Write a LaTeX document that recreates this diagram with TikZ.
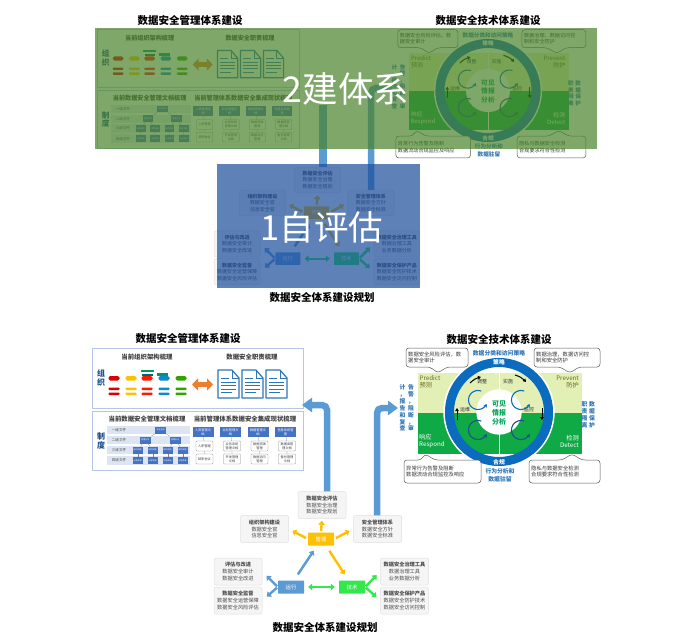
\documentclass[tikz,border=0pt]{standalone}
\usepackage{fontspec}
\setmainfont{Noto Sans CJK SC}
\usetikzlibrary{arrows.meta,calc}
\definecolor{panelb}{HTML}{B4C7E7}
\definecolor{rowb}{HTML}{DEE5F2}
\definecolor{boxb}{HTML}{4472C4}
\definecolor{docb}{HTML}{2E75B6}
\definecolor{ringb}{HTML}{0B6CBF}
\definecolor{lgreen}{HTML}{E2F0B5}
\definecolor{dgreen}{HTML}{0FA945}
\definecolor{skyb}{HTML}{5B9BD5}
\definecolor{yel}{HTML}{FFC000}
\definecolor{grn}{HTML}{33E84A}
\definecolor{orn}{HTML}{ED7D31}
\definecolor{navy}{HTML}{1F4E8C}
\definecolor{overg}{HTML}{4A832A}
\definecolor{overb}{HTML}{1A4D9B}
\newcommand{\fz}[1]{\fontsize{#1}{\the\dimexpr#1pt*13/10\relax}\selectfont}
\newcommand{\fzb}[2]{\fontsize{#1}{#2}\selectfont}
\tikzset{
 panelbox/.style={draw=panelb,line width=.8,fill=white},
 ttl/.style={font=\bfseries\fz{10.5},text=black,inner sep=0},
 sub/.style={font=\bfseries\fz{6.4},text=black!75,inner sep=0},
 tinyb/.style={fill=boxb,text=white,font=\fz{2},inner sep=0,minimum width=10,minimum height=7,align=center},
 hdrb/.style={fill=boxb,text=white,font=\fz{3.2},inner sep=0,minimum width=21,minimum height=10,align=center},
 subb/.style={draw=black!45,line width=.3,fill=white,rounded corners=.8,text=black!75,font=\fzb{3.2}{4},inner sep=0,minimum width=17,minimum height=10,align=center},
 thin/.style={draw=black!50,line width=.25},
 plan/.style={draw=black!12,fill=black!4,rounded corners=2,line width=.5,inner sep=0,align=center,font=\fz{5.2},text=black!70,minimum width=48,minimum height=27},
 core/.style={rounded corners=.5,inner sep=0,minimum width=26,minimum height=13,text=white,font=\fz{5.4}},
 blk/.style={line width=2.4,-{Triangle[length=4,width=6.5]}},
 big/.style={draw=skyb,line width=6.5,rounded corners=5,-{Triangle[length=10,width=14]}},
 callout/.style={draw=black!65,fill=white,line width=.5,rounded corners=3},
 calltext/.style={inner sep=0,font=\fz{5.3},text=black!80,align=left},
 quadl/.style={inner sep=0,font=\fz{6.2},align=left},
 blue6/.style={inner sep=0,font=\bfseries\fzb{5.8}{6.9},text=docb,align=center},
}
\newcommand{\docicon}[3]{%
 \draw[docb,line width=1.2,fill=white,line join=round] (#1,#2)--(#1+14,#2)--(#1+21,#2+8)--(#1+21,#2+28)--(#1,#2+28)--cycle;
 \draw[docb,line width=.9] (#1+14,#2)--(#1+14,#2+8)--(#1+21,#2+8);
 \draw[docb,line width=1] (#1+3,#2+8)--(#1+11,#2+8) (#1+3,#2+12)--(#1+18,#2+12) (#1+3,#2+15.5)--(#1+18,#2+15.5) (#1+3,#2+19)--(#1+18,#2+19) (#1+3,#2+22.5)--(#1+14,#2+22.5);}
\newcommand{\barcol}[2]{%
 \fill[#2,rounded corners=1.7] (#1-5.5,376) rectangle (#1+5.5,380.5);
 \fill[#2,rounded corners=.8] (#1-5.5,387.5) rectangle (#1+5.5,390);
 \fill[#2,rounded corners=.8] (#1-5.5,392.5) rectangle (#1+5.5,395);}
% management block, drawn in the lower copy's pixel frame
\newcommand{\mgmt}[1]{%
 \draw[panelbox] (92,348) rectangle (303,408);
 \draw[panelbox] (92,411) rectangle (303,470);
 \node[sub] (#1a) at (147,357) {当前组织架构梳理};
 \node[sub] (#1b) at (252,357) {数据安全职责梳理};
 \node[inner sep=0,font=\bfseries\fzb{8}{8.8},text=navy,align=center] (#1c) at (101,378) {组\\织};
 \barcol{114}{red!85!black}\barcol{131}{yel}\barcol{147}{red!80!orange}\barcol{164}{cyan!70!blue}\barcol{181}{green!55!black!80!yellow}
 \fill[teal!80!green] (140.5,369.5) rectangle (153.5,372);
 \fill[teal!80!black] (142,376) rectangle (152.5,373.5);
 \fill[teal!80!green] (157,373) rectangle (168,375.5);
 \draw[orn,line width=5,{Triangle[length=6,width=12]}-{Triangle[length=6,width=12]}] (192,384.5)--(213,384.5);
 \docicon{218}{370}{}\docicon{242}{370}{}\docicon{266}{370}{}
 \node[sub] (#1d) at (147,419) {当前数据安全管理文档梳理};
 \node[sub] (#1e) at (245,419) {当前管理体系数据安全集成现状梳理};
 \node[inner sep=0,font=\bfseries\fzb{8}{8.8},text=navy,align=center] (#1f) at (101,441) {制\\度};
 \foreach \yy/\tt in {430/一级文件,440/二级文件,450/三级文件,460.5/四级文件}{
  \fill[rowb] (107,\yy-4.3) rectangle (190,\yy+4.3);
  \node[inner sep=0,font=\fz{3.6},text=black!70] at (119,\yy) {\tt};}
 \node[tinyb,minimum width=11] (#1r1) at (160.7,430) {安全总纲};
 \node[tinyb,minimum width=11] (#1r2a) at (145.3,440) {管理办法};
 \node[tinyb,minimum width=11] (#1r2b) at (175,440) {管理办法};
 \foreach \n/\xx in {a/137.7,b/152.7,c/167.7,d/182.7}{
  \node[tinyb] (#1r3\n) at (\xx,450) {操作规程};
  \node[tinyb] (#1r4\n) at (\xx,460.5) {记录表单};
  \draw[thin] (#1r3\n)--(#1r4\n);}
 \draw[thin] (#1r1)--(#1r2a) (#1r1)--(#1r2b) (#1r2a)--(#1r3a) (#1r2a)--(#1r3b) (#1r2b)--(#1r3c) (#1r2b)--(#1r3d);
 \foreach \n/\xx/\ha/\sa/\sb in {a/203/人资管理文\\档/入职管理/辞职协议,b/230.5/业务管理文\\档/业务系统\\管理文档/开发管理\\文档,c/258/数据管理文\\档/数据资源\\管理/数据访问\\管理,d/285.5/信息系统管\\理/数据库管\\理文档/备份管理\\文档}{
  \node[hdrb] (#1h\n) at (\xx,432) {\ha};
  \node[subb] (#1s\n) at (\xx+1.5,446) {\sa};
  \node[subb] (#1t\n) at (\xx+1.5,459) {\sb};
  \draw[thin] (#1h\n)--(#1s\n) (#1s\n)--(#1t\n);}
}
\newcommand{\circarr}[3]{\draw[#3,line width=1.1,-{Stealth[length=3.5,width=4]}] plot[smooth,domain=-70:-335,samples=24] ({#1+9.5*cos(\x)},{#2+9.5*sin(\x)});}
% technology block
\newcommand{\tech}[1]{%
 \fill[lgreen] (418,373) rectangle (582,413);
 \fill[dgreen] (418,413) rectangle (582,454);
 \draw[white,line width=1] (499,373)--(499,454);
 \draw[white,line width=1.5] (499,412) circle[radius=55pt];
 \draw[ringb,line width=9] (499,412) circle[radius=49.5pt];
 \fill[white] (499,412) circle[radius=22.7pt];
 \node[inner sep=0,font=\bfseries\fzb{7}{9},text=teal!70!green,align=center] (#1m) at (499,413) {可见\\情报\\分析};
 \node[inner sep=0,font=\bfseries\fz{5.8},text=white] (#1n) at (499,362.5) {策略};
 \node[inner sep=0,font=\bfseries\fz{5.8},text=white] (#1o) at (499,462) {合规};
 \node[quadl,text=olive!70!black] (#1p) at (430,382) {Predict\\[-1pt]预测};
 \node[quadl,text=olive!70!black,align=right,anchor=east] (#1q) at (579,382) {Prevent\\[-1pt]防护};
 \node[quadl,text=white,anchor=west] (#1u) at (419,441.5) {响应\\[-1pt]Respond};
 \node[quadl,text=white,align=right,anchor=east] (#1v) at (579,441.5) {检测\\[-1pt]Detect};
 \circarr{478}{400}{ringb}\circarr{521}{400}{ringb}\circarr{478}{430}{navy}\circarr{521}{430}{navy}
 \foreach \xx/\yy/\t in {482/382/调整,508/382/实施,529/410/监控,465/410/运维}{\node[inner sep=0,font=\fz{5},text=black!80] at (\xx,\yy) {\t};}
 \draw[black,line width=1,-{Triangle[length=3,width=3.5]}] (470,383) to[bend left=15] (481,377);
 \draw[black,line width=1,-{Triangle[length=3,width=3.5]}] (515,375) to[bend left=15] (526,382);
 \draw[black,line width=1,-{Triangle[length=3,width=3.5]}] (542,408)--(542,420);
 \draw[black,line width=1,-{Triangle[length=3,width=3.5]}] (457,420)--(457,408);
 \draw[callout] (406,348)--(468,348)--(468,367)--(447,367)--(438,373)--(430,367)--(406,367)--cycle;
 \node[calltext,anchor=west] (#1ca) at (408,357.5) {数据安全风险评估，数\\据安全审计};
 \draw[callout] (534,348)--(600,348)--(600,367)--(579,367)--(570,373)--(560,367)--(534,367)--cycle;
 \node[calltext,anchor=west] (#1cb) at (536,357.5) {数据治理，数据访问控\\制和安全防护};
 \draw[callout] (404,460)--(421,460)--(425,454)--(435,460)--(481,460)--(481,483)--(404,483)--cycle;
 \node[calltext,anchor=west] (#1cc) at (406,471.5) {异常行为告警及阻断\\数据流动合规监控及响应};
 \draw[callout] (529,460)--(562,460)--(572,454)--(582,460)--(600,460)--(600,483)--(529,483)--cycle;
 \node[calltext,anchor=west] (#1cd) at (531,471.5) {隐私与数据安全检测\\合规要求符合性检测};
 \node[blue6] (#1t1) at (499,353.5) {数据分类和访问策略};
 \node[blue6,fill=white,inner sep=.5] (#1t2) at (500,475) {行为分析和\\[1pt]数据驻留};
 \node[blue6] (#1l1) at (411,408) {告\\警\\，\\阻\\断\\，\\审};
 \node[blue6] (#1l2) at (402.5,408) {计\\，\\报\\告\\和\\复\\查};
 \node[blue6] (#1r1) at (592,415) {数\\据\\保\\护};
 \node[blue6] (#1r2) at (584.5,415) {职\\责\\隔\\离};
}
% planning block
\newcommand{\planning}[1]{%
 \node[plan] (#1ev) at (322,505) {{\bfseries 数据安全评估}\\数据安全治理\\数据安全规划};
 \node[plan] (#1og) at (264.5,529) {{\bfseries 组织架构建设}\\数据安全官\\信息安全官};
 \node[plan] (#1ms) at (377.5,529) {{\bfseries 安全管理体系}\\数据安全方针\\数据安全标准};
 \node[plan] (#1as) at (238,571.5) {{\bfseries 评估与改进}\\数据安全审计\\数据安全改进};
 \node[plan] (#1su) at (238,600.5) {{\bfseries 数据安全监督}\\数据安全运营保障\\数据安全风险评估};
 \node[plan] (#1tl) at (404.5,571.5) {{\bfseries 数据安全治理工具}\\数据治理工具\\业务数据分析};
 \node[plan] (#1pr) at (404.5,600.5) {{\bfseries 数据安全保护产品}\\数据安全防护技术\\数据安全访问控制};
 \node[core,fill=yel] (#1mg) at (321,539) {管理};
 \node[core,fill=skyb] (#1rn) at (291,587) {运行};
 \node[core,fill=grn] (#1js) at (352,587) {技术};
 \draw[blk,yel,shorten <=1.5,shorten >=2] (#1mg.north)--(#1ev.south);
 \draw[blk,yel,shorten <=2,shorten >=4] (#1mg.west)--(#1og.east);
 \draw[blk,yel,shorten <=2,shorten >=4] (#1mg.east)--(#1ms.west);
 \draw[blk,skyb,shorten <=7,shorten >=6] ([xshift=3]#1rn.north)--([xshift=-4]#1mg.south);
 \draw[blk,yel,shorten <=6,shorten >=7] ([xshift=5]#1mg.south)--([xshift=-3.5]#1js.north);
 \draw[line width=2.2,grn,{Triangle[length=4,width=6.5]}-{Triangle[length=4,width=6.5]},shorten <=4,shorten >=4] (#1rn.east)--(#1js.west);
 \draw[blk,skyb,shorten <=1,shorten >=6] (#1rn.west)--(#1as.east);
 \draw[blk,skyb,shorten <=1,shorten >=6] (#1rn.west)--(#1su.east);
 \draw[blk,grn,shorten <=1,shorten >=5] (#1js.east)--(#1tl.west);
 \draw[blk,grn,shorten <=1,shorten >=5] (#1js.east)--(#1pr.west);
}
\begin{document}
\begin{tikzpicture}[x=1pt,y=-1pt]
\useasboundingbox (0,0) rectangle (688,644);
\fill[white] (0,0) rectangle (688,644);
% lower copy
\node[ttl] (t1) at (188,338) {数据安全管理体系建设};
\node[ttl] (t2) at (499,339) {数据安全技术体系建设};
\node[ttl] (t3) at (325,627) {数据安全体系建设规划};
\mgmt{lm}
\tech{lt}
\planning{lp}
\coordinate (la) at (302,405);
\coordinate (lb) at (398,408);
\draw[big] (lpev.north -| 327,0) -- (327,405) -- (la);
\draw[big] (lpms.north -| 377,0) -- (377,408) -- (lb);
% upper copy
\node[ttl] (u1) at (190,21) {数据安全管理体系建设};
\node[ttl] (u2) at (488,21) {数据安全技术体系建设};
\node[ttl] (u3) at (322,297) {数据安全体系建设规划};
\begin{scope}[shift={(97,29)},xscale=.957,yscale=.975,shift={(-92,-348)},every node/.append style={transform shape}]
\mgmt{um}
\end{scope}
\begin{scope}[shift={(488,90.5)},xscale=.97,yscale=.95,shift={(-499,-412)},every node/.append style={transform shape}]
\tech{ut}
\end{scope}
\begin{scope}[shift={(214,180)},xscale=.96,yscale=.96,shift={(-214,-505)},every node/.append style={transform shape}]
\planning{up}
\end{scope}
\coordinate (ua) at (323,105);
\coordinate (ub) at (392,88);
\draw[draw=skyb,line width=7.5] (upev.north -| 323,0) -- (ua);
\draw[draw=skyb,line width=6.5,rounded corners=5] (upms.north -| 371,0) -- (371,88) -- (ub);
% translucent overlays
\fill[overg,fill opacity=.7] (95,28) rectangle (597,149);
\fill[overb,fill opacity=.7] (217,164) rectangle (420,288);
\node[inner sep=0,text=white,font=\fz{35.5}] (ov1) at (346,89) {2建体系};
\node[inner sep=0,text=white,font=\fz{34.5}] (ov2) at (322,227) {1自评估};
\end{tikzpicture}
\end{document}
